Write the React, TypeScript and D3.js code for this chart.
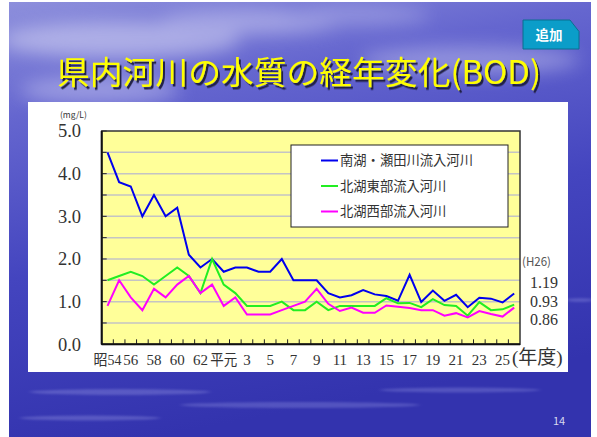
import React from "react";
import * as d3 from "d3";

// Fiscal years: Showa 54 .. Showa 63, Heisei 1 .. Heisei 26
const years = [
  "昭54", "55", "56", "57", "58", "59", "60", "61", "62", "63",
  "平元", "2", "3", "4", "5", "6", "7", "8", "9", "10",
  "11", "12", "13", "14", "15", "16", "17", "18", "19", "20",
  "21", "22", "23", "24", "25", "26",
];

// BOD (mg/L)
const southLake = [
  4.5, 3.8, 3.7, 3.0, 3.5, 3.0, 3.2, 2.1, 1.8, 2.0,
  1.7, 1.8, 1.8, 1.7, 1.7, 2.0, 1.5, 1.5, 1.5, 1.2,
  1.1, 1.15, 1.27, 1.17, 1.13, 1.02, 1.63, 0.99, 1.26, 1.02,
  1.16, 0.87, 1.09, 1.07, 0.98, 1.19,
];
const northEast = [
  1.5, 1.6, 1.7, 1.6, 1.4, 1.6, 1.8, 1.6, 1.2, 2.0,
  1.4, 1.2, 0.9, 0.9, 0.9, 1.0, 0.8, 0.8, 1.0, 0.8,
  0.9, 0.9, 0.9, 0.9, 1.08, 0.96, 0.97, 0.87, 1.06, 0.92,
  0.9, 0.67, 0.99, 0.8, 0.82, 0.93,
];
const northWest = [
  0.9, 1.5, 1.1, 0.8, 1.3, 1.1, 1.4, 1.6, 1.2, 1.4,
  0.9, 1.1, 0.7, 0.7, 0.7, 0.8, 0.9, 1.0, 1.3, 0.95,
  0.78, 0.86, 0.74, 0.74, 0.91, 0.88, 0.85, 0.8, 0.8, 0.67,
  0.73, 0.63, 0.78, 0.71, 0.65, 0.86,
];

const seriesNames = ["南湖・瀬田川流入河川", "北湖東部流入河川", "北湖西部流入河川"];
const seriesColors = ["#0000ee", "#22ee22", "#ff00ff"];
const yTicks = [0, 1, 2, 3, 4, 5];
const gridValues = [0.5, 1, 1.5, 2, 2.5, 3, 3.5, 4, 4.5];

const W = 597;
const H = 437;
const plot = { left: 101.7, right: 520, top: 131, bottom: 344.3 };

const serif = "'Liberation Serif', 'DejaVu Serif', 'Noto Sans CJK JP', serif";
const gothic = "'Noto Sans CJK JP', 'Noto Sans', sans-serif";

export default function App() {
  const x = d3.scaleBand<string>().domain(years).range([plot.left, plot.right]);
  const y = d3.scaleLinear().domain([0, 5]).range([plot.bottom, plot.top]);
  const cx = (i: number) => (x(years[i]) as number) + x.bandwidth() / 2;
  const line = d3
    .line<number>()
    .x((_, i) => cx(i))
    .y((d) => y(d));

  const allSeries = [southLake, northEast, northWest];
  const last = allSeries.map((s) => s[s.length - 1]);
  const lastLabelY = [282.5, 301, 319.5];

  const categoryBounds = years.map((c) => x(c) as number).slice(1);

  return (
    <svg
      width={W}
      height={H}
      style={{ position: "absolute", left: 0, top: 0, display: "block" }}
    >
      <defs>
        <linearGradient id="sky" x1="0" y1="0" x2="0.25" y2="1">
          <stop offset="0" stopColor="#8d8fdc" />
          <stop offset="0.25" stopColor="#6566cf" />
          <stop offset="0.6" stopColor="#4445bf" />
          <stop offset="1" stopColor="#3333ae" />
        </linearGradient>
        <clipPath id="slideClip">
          <rect x={9} y={2} width={582} height={435} />
        </clipPath>
        <filter id="soft" x="-50%" y="-50%" width="200%" height="200%">
          <feGaussianBlur stdDeviation="9" />
        </filter>
        <filter id="streak" x="-20%" y="-200%" width="140%" height="500%">
          <feGaussianBlur stdDeviation="2.5 1" />
        </filter>
        <filter id="shadow" x="-10%" y="-30%" width="120%" height="160%">
          <feDropShadow dx="2" dy="2.5" stdDeviation="0.4" floodColor="#1a1a40" floodOpacity="0.95" />
        </filter>
      </defs>

      <rect x={0} y={0} width={W} height={H} fill="#ffffff" />
      {/* slide background */}
      <g clipPath="url(#slideClip)">
        <rect x={9} y={2} width={582} height={435} fill="url(#sky)" />
        <g filter="url(#soft)" opacity={0.55}>
          <ellipse cx={120} cy={40} rx={120} ry={18} fill="#d8d8f4" />
          <ellipse cx={250} cy={22} rx={90} ry={12} fill="#c8c8f0" />
          <ellipse cx={100} cy={90} rx={80} ry={14} fill="#c0c0ee" />
          <ellipse cx={470} cy={60} rx={110} ry={14} fill="#b8b8ea" />
          <ellipse cx={360} cy={15} rx={70} ry={9} fill="#b0b0e8" />
        </g>
        <g filter="url(#streak)" opacity={0.35}>
          <ellipse cx={120} cy={392} rx={90} ry={3} fill="#9a9ae4" />
          <ellipse cx={300} cy={405} rx={120} ry={3} fill="#8f90e0" />
          <ellipse cx={90} cy={418} rx={70} ry={2.5} fill="#9a9ae4" />
          <ellipse cx={460} cy={390} rx={80} ry={2.5} fill="#8f90e0" />
          <ellipse cx={580} cy={300} rx={14} ry={2} fill="#8f90e0" />
        </g>
      </g>

      {/* badge */}
      <g>
        <path d="M523,20 L570,20 L579,31.5 L579,49 L523,49 Z" fill="#0b9dc9" stroke="#0a6f90" strokeWidth={1} />
        <text
          x={549}
          y={40}
          textAnchor="middle"
          fontFamily={gothic}
          fontWeight={700}
          fontSize={13.5}
          fill="#ffffff"
        >
          追加
        </text>
      </g>

      {/* title */}
      <text
        x={57}
        y={84}
        textLength={484}
        lengthAdjust="spacingAndGlyphs"
        fontFamily={gothic}
        fontWeight={400}
        fontSize={32}
        fill="#ffff00"
        filter="url(#shadow)"
      >
        県内河川の水質の経年変化(BOD)
      </text>

      {/* chart panel */}
      <rect x={28} y={102} width={540} height={270} fill="#ffffff" />

      {/* plot area */}
      <rect
        x={plot.left}
        y={plot.top}
        width={plot.right - plot.left}
        height={plot.bottom - plot.top}
        fill="#ffff99"
      />
      {gridValues.map((v) => (
        <line
          key={v}
          x1={plot.left}
          x2={plot.right}
          y1={y(v)}
          y2={y(v)}
          stroke="#c4c4c4"
          strokeWidth={1.5}
        />
      ))}
      {/* y ticks every 0.5 */}
      {[...gridValues, 5].map((v) => (
        <line key={"t" + v} x1={plot.left} x2={plot.left + 5} y1={y(v)} y2={y(v)} stroke="#222" strokeWidth={1} />
      ))}
      {/* x ticks at category boundaries */}
      {categoryBounds.map((bx, i) => (
        <line key={"xt" + i} x1={bx} x2={bx} y1={plot.bottom} y2={plot.bottom - 5} stroke="#222" strokeWidth={1} />
      ))}
      <rect
        x={plot.left}
        y={plot.top}
        width={plot.right - plot.left}
        height={plot.bottom - plot.top}
        fill="none"
        stroke="#333"
        strokeWidth={1.5}
      />
      <line x1={plot.left} x2={plot.left} y1={plot.top} y2={plot.bottom} stroke="#111" strokeWidth={2} />
      <line x1={plot.left} x2={plot.right} y1={plot.bottom} y2={plot.bottom} stroke="#111" strokeWidth={2} />

      {/* y labels */}
      <text x={60} y={118} fontFamily={gothic} fontSize={8.5} fill="#333">
        (mg/L)
      </text>
      {yTicks.map((v) => (
        <text
          key={"yl" + v}
          x={81}
          y={y(v)}
          dy="0.35em"
          textAnchor="end"
          fontFamily={serif}
          fontSize={18.5}
          fill="#333"
        >
          {v.toFixed(1)}
        </text>
      ))}

      {/* x labels */}
      {years.map((c, i) =>
        i % 2 === 0 ? (
          <text
            key={"xl" + c}
            x={cx(i)}
            y={365}
            textAnchor="middle"
            fontFamily={serif}
            fontSize={15}
            fill="#333"
            textLength={c.length > 2 ? 28 : c === "平元" ? 27 : undefined}
            lengthAdjust="spacingAndGlyphs"
          >
            {c}
          </text>
        ) : null
      )}
      <text x={512} y={364} fontFamily={serif} fontSize={19} fill="#333">
        (年度)
      </text>

      {/* series */}
      {allSeries.map((s, k) => (
        <path
          key={"s" + k}
          d={line(s) as string}
          fill="none"
          stroke={seriesColors[k]}
          strokeWidth={2}
          strokeLinejoin="miter"
        />
      ))}

      {/* latest values */}
      <text x={522} y={266} fontFamily={gothic} fontSize={11.5} fill="#555">
        (H26)
      </text>
      {last.map((v, k) => (
        <text
          key={"lv" + k}
          x={558}
          y={lastLabelY[k]}
          dy="0.35em"
          textAnchor="end"
          fontFamily={serif}
          fontSize={16}
          fill="#333"
        >
          {v.toFixed(2)}
        </text>
      ))}

      {/* legend */}
      <rect x={291} y={145} width={217} height={82} fill="#ffffff" stroke="#222" strokeWidth={1} />
      {seriesNames.map((n, k) => (
        <g key={"lg" + k}>
          <line
            x1={321}
            x2={338}
            y1={160.5 + k * 25.5}
            y2={160.5 + k * 25.5}
            stroke={seriesColors[k]}
            strokeWidth={2}
          />
          <text
            x={340}
            y={160.5 + k * 25.5}
            dy="0.36em"
            fontFamily={gothic}
            fontSize={13.3}
            fill="#333"
          >
            {n}
          </text>
        </g>
      ))}

      {/* page number */}
      <text x={559} y={425} textAnchor="middle" fontFamily={gothic} fontSize={11} fill="#d8d8ee">
        14
      </text>
    </svg>
  );
}
